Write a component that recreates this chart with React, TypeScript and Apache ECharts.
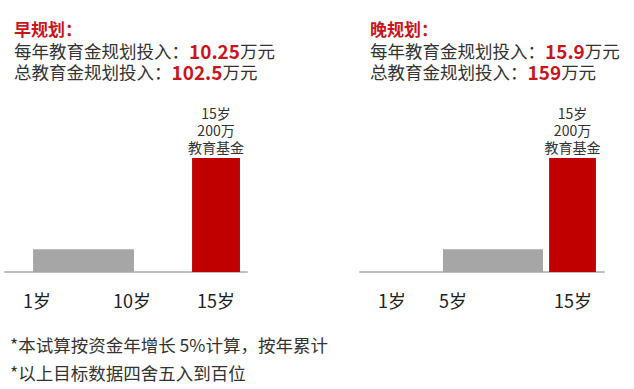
import React, { useEffect, useRef } from "react";
import * as echarts from "echarts";

const FONT = "'Noto Sans CJK SC', 'Noto Sans', sans-serif";

// x positions are in axis units (0–100 of each panel's axis)
const leftTickPos = [13.2, 52.5, 87.2];
const leftTickLabels = ["1岁", "10岁", "15岁"];
const leftBarStart = [11.6, 77.3];
const leftBarEnd = [53.3, 97.1];

const rightTickPos = [13.1, 38.1, 87.3];
const rightTickLabels = ["1岁", "5岁", "15岁"];
const rightBarStart = [34.0, 77.5];
const rightBarEnd = [75.0, 96.7];

const barValues = [40, 200];
const barColors = ["#a6a6a6", "#c00000"];
const barLabels = ["", "15岁\n200万\n教育基金"];

const leftTitle = "早规划：";
const leftAnnual = "10.25";
const leftTotal = "102.5";
const rightTitle = "晚规划：";
const rightAnnual = "15.9";
const rightTotal = "159";

const notes = ["*本试算按资金年增长 5%计算，按年累计", "*以上目标数据四舍五入到百位"];

function makeXAxis(gridIndex: number, pos: number[], labels: string[]) {
  return {
    type: "value",
    gridIndex,
    min: 0,
    max: 100,
    axisLine: { show: true, lineStyle: { color: "#bfbfbf", width: 2 } },
    axisTick: { show: false },
    splitLine: { show: false },
    axisLabel: {
      customValues: pos,
      formatter: (v: number) => {
        const i = pos.indexOf(v);
        return i >= 0 ? labels[i] : "";
      },
      margin: 19,
      fontSize: 18,
      color: "#222",
      fontFamily: FONT,
    },
  };
}

function makeSeries(idx: number, starts: number[], ends: number[]) {
  return {
    type: "custom",
    xAxisIndex: idx,
    yAxisIndex: idx,
    encode: { x: [0, 1], y: 2 },
    data: starts.map((s, i) => [s, ends[i], barValues[i]]),
    renderItem: (params: any, api: any) => {
      const s = api.value(0);
      const e = api.value(1);
      const v = api.value(2);
      const p0 = api.coord([s, v]);
      const p1 = api.coord([e, 0]);
      const i = params.dataIndex;
      const el: any = {
        type: "rect",
        shape: { x: p0[0], y: p0[1], width: p1[0] - p0[0], height: p1[1] - p0[1] },
        style: { fill: barColors[i] },
      };
      if (barLabels[i]) {
        el.textContent = {
          style: {
            text: barLabels[i],
            fontSize: 14,
            lineHeight: 17,
            fill: "#333",
            align: "center",
            fontFamily: FONT,
          },
        };
        el.textConfig = { position: "top", distance: 3 };
      }
      return el;
    },
  };
}

const rich = {
  n: { fontSize: 17.5, fill: "#333", fontFamily: FONT },
  b: { fontSize: 19, fontWeight: "bold", fill: "#c8161d", fontFamily: FONT },
};

function header(left: number, title: string, annual: string, total: string) {
  return [
    {
      type: "text",
      left,
      top: 20,
      style: { text: title, fontSize: 17, fontWeight: "bold", fill: "#c8161d", fontFamily: FONT },
    },
    {
      type: "text",
      left,
      top: 41,
      style: { text: `{n|每年教育金规划投入：}{b|${annual}}{n|万元}`, rich, fontFamily: FONT },
    },
    {
      type: "text",
      left,
      top: 62,
      style: { text: `{n|总教育金规划投入：}{b|${total}}{n|万元}`, rich, fontFamily: FONT },
    },
  ];
}

export default function App() {
  const ref = useRef<HTMLDivElement>(null);
  useEffect(() => {
    document.body.style.margin = "0";
    if (!ref.current) return;
    const chart = echarts.init(ref.current, null, { renderer: "svg" });
    chart.setOption({
      animation: false,
      backgroundColor: "#ffffff",
      grid: [
        { left: 5, width: 242, top: 158, bottom: 117 },
        { left: 360, width: 244, top: 158, bottom: 117 },
      ],
      xAxis: [makeXAxis(0, leftTickPos, leftTickLabels), makeXAxis(1, rightTickPos, rightTickLabels)],
      yAxis: [
        { type: "value", gridIndex: 0, min: 0, max: 200, show: false },
        { type: "value", gridIndex: 1, min: 0, max: 200, show: false },
      ],
      series: [makeSeries(0, leftBarStart, leftBarEnd), makeSeries(1, rightBarStart, rightBarEnd)],
      graphic: [
        ...header(14, leftTitle, leftAnnual, leftTotal),
        ...header(370, rightTitle, rightAnnual, rightTotal),
        {
          type: "text",
          left: 10,
          top: 336,
          style: { text: notes[0], fontSize: 17.5, fill: "#333", fontFamily: FONT },
        },
        {
          type: "text",
          left: 10,
          top: 364,
          style: { text: notes[1], fontSize: 17.5, fill: "#333", fontFamily: FONT },
        },
      ],
    });
    return () => chart.dispose();
  }, []);
  return <div ref={ref} style={{ width: 634, height: 389 }} />;
}
